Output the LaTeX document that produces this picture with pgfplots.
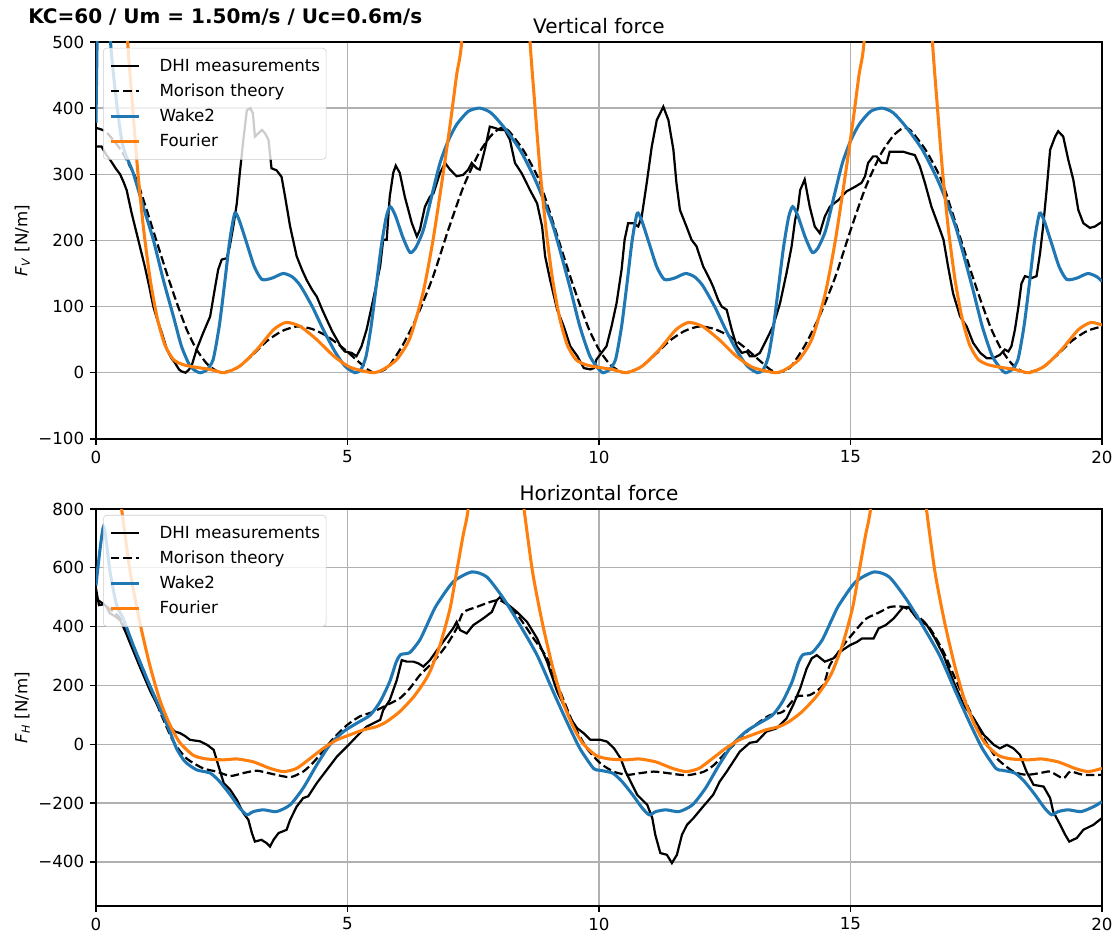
\documentclass[border=0pt]{standalone}
\usepackage{fontspec}
\setmainfont{DejaVu Sans}
\usepackage{pgfplots}
\pgfplotsset{compat=1.18}
\definecolor{tabblue}{HTML}{1F77B4}
\definecolor{taborange}{HTML}{FF7F0E}
\definecolor{gridgray}{HTML}{B0B0B0}
\definecolor{legframe}{HTML}{CCCCCC}

\pgfplotsset{
  myax/.style={
    scale only axis, width=724.3pt, height=285.8pt,
    xmin=0, xmax=20, xtick={0,5,10,15,20},
    xticklabels={0,5,10,15,20},
    grid=major, grid style={gridgray, line width=0.96pt},
    axis line style={line width=0.96pt},
    every tick/.style={black, line width=0.96pt},
    tick align=outside, major tick length=4.2pt,
    xtick pos=lower, ytick pos=left,
    ticklabel style={font=\fontsize{12}{14}\selectfont},
    xticklabel style={yshift=-0.8pt},
    yticklabel style={xshift=-0.8pt},
    title style={at={(0.5,1)}, anchor=base, yshift=0pt, font=\fontsize{14.4}{17}\selectfont},
    legend cell align=left,
    legend style={at={(0.007,0.985)}, anchor=north west, draw=legframe, rounded corners=2.5pt,
      fill=white, fill opacity=0.8, draw opacity=1, text opacity=1,
      font=\fontsize{12}{14}\selectfont, inner xsep=4.3pt, inner ysep=7pt, row sep=6pt,
      nodes={inner sep=0pt, text height=9.5pt, text depth=2.5pt}},
    legend image code/.code={\draw[#1] (0pt,0pt) -- (20pt,0pt); \path (34pt,0pt);},
  },
  dhi/.style={black, line width=1.6pt},
  mor/.style={black, line width=1.6pt, dash pattern=on 6.2pt off 2.7pt, smooth, tension=0.4},
  wk/.style={tabblue, line width=2.2pt, smooth, tension=0.4},
  fo/.style={taborange, line width=2.2pt, smooth, tension=0.4},
}

\begin{document}
\begin{tikzpicture}
\path[use as bounding box] (0,0) rectangle (802.8pt,673.2pt);
\node[anchor=base west, inner sep=0pt, font=\bfseries\fontsize{14.4}{17}\selectfont] at (20.2pt,656.5pt) {KC=60 / Um = 1.50m/s / Uc=0.6m/s};

% ---------------- Vertical force ----------------
\begin{axis}[myax, at={(69.1pt,357.2pt)}, anchor=south west,
  ymin=-100, ymax=500, ytick={-100,0,100,200,300,400,500},
  yticklabels={−100,0,100,200,300,400,500},
  title={Vertical force},
  ylabel={\textit{F}\textsubscript{\textit{V}} [N/m]},
  ylabel style={at={([xshift=-53pt]axis description cs:0,0.5)}, anchor=center, font=\fontsize{12}{14}\selectfont},
]
\addplot[dhi] coordinates {
(0.0,342) (0.11,342) (0.2,330) (0.28,322) (0.4,308) (0.48,300) (0.55,288) (0.61,276) (0.71,241) (0.84,201)
(0.97,161) (1.06,130) (1.14,100) (1.22,80) (1.31,60) (1.41,35) (1.5,22) (1.57,15) (1.65,5) (1.7,2)
(1.78,0) (1.84,4) (1.9,10) (2.0,35) (2.13,60) (2.27,85) (2.37,130) (2.43,156) (2.5,171) (2.6,173)
(2.66,191) (2.73,221) (2.8,256) (2.86,302) (2.93,352) (3.0,397) (3.07,400) (3.12,392) (3.16,357) (3.23,362)
(3.3,367) (3.36,362) (3.43,352) (3.49,309) (3.59,306) (3.65,300) (3.69,296) (3.76,266) (3.86,221) (3.99,176)
(4.1,155) (4.19,140) (4.3,125) (4.39,115) (4.5,95) (4.59,80) (4.7,62) (4.79,50) (4.88,38) (4.95,32)
(5.08,30) (5.18,25) (5.28,40) (5.38,65) (5.51,110) (5.65,161) (5.71,201) (5.78,201) (5.84,266) (5.91,302)
(5.96,313) (6.04,302) (6.14,266) (6.28,226) (6.38,206) (6.44,216) (6.54,251) (6.64,266) (6.71,271) (6.84,302)
(6.94,317) (7.04,307) (7.17,297) (7.3,299) (7.4,307) (7.47,317) (7.57,309) (7.63,307) (7.73,337) (7.83,372)
(7.93,370) (8.03,367) (8.13,367) (8.23,352) (8.33,317) (8.46,302) (8.63,276) (8.77,256) (8.87,221) (8.93,176)
(9.03,140) (9.17,95) (9.3,70) (9.43,40) (9.57,25) (9.7,7) (9.83,5) (9.9,7) (9.95,20) (10.05,30)
(10.15,40) (10.25,70) (10.35,105) (10.45,156) (10.51,201) (10.58,226) (10.68,226) (10.78,221) (10.85,236) (10.95,287)
(11.05,342) (11.15,382) (11.28,402) (11.38,382) (11.48,337) (11.54,287) (11.61,246) (11.74,221) (11.84,201) (11.94,191)
(12.07,161) (12.21,140) (12.27,130) (12.37,110) (12.44,100) (12.54,95) (12.64,65) (12.74,40) (12.84,30) (12.94,32)
(13.0,25) (13.1,25) (13.2,30) (13.33,50) (13.46,70) (13.6,105) (13.73,151) (13.83,191) (13.9,231) (13.96,251)
(14.0,276) (14.09,292) (14.19,251) (14.29,221) (14.39,211) (14.49,236) (14.59,251) (14.76,261) (14.92,274) (15.09,281)
(15.22,287) (15.29,297) (15.35,317) (15.45,327) (15.52,327) (15.62,317) (15.72,317) (15.78,334) (15.92,334) (16.05,334)
(16.18,331) (16.28,329) (16.38,312) (16.48,287) (16.61,251) (16.78,216) (16.85,201) (16.94,161) (17.04,120) (17.18,85)
(17.31,70) (17.44,45) (17.58,30) (17.71,22) (17.84,22) (17.97,27) (18.07,35) (18.14,32) (18.2,40) (18.27,65)
(18.34,100) (18.4,135) (18.47,146) (18.6,143) (18.7,146) (18.77,181) (18.83,221) (18.9,276) (18.97,337) (19.07,357)
(19.13,365) (19.23,357) (19.33,322) (19.43,292) (19.53,246) (19.63,226) (19.76,219) (19.86,221) (19.96,226) (20.0,228)
};
\addlegendentry{DHI measurements}
\addplot[mor] coordinates {
(0,370) (0.2,364) (0.5,336) (0.8,293) (1.0,248) (1.2,200) (1.4,152) (1.6,107) (1.8,66) (2.0,35) (2.2,14) (2.35,5) (2.5,0)
(2.8,7) (3.1,26) (3.4,48) (3.7,63) (4.0,70) (4.3,66) (4.6,55) (4.9,38) (5.2,18) (5.4,5) (5.55,0) (5.8,8) (6.1,42)
(6.4,88) (6.7,145) (7.0,215) (7.3,280) (7.6,330) (7.85,358) (8.05,370)
(8.2,366) (8.5,336) (8.8,293) (9.0,248) (9.2,200) (9.4,152) (9.6,107) (9.8,66) (10.0,35) (10.2,14) (10.35,5) (10.5,0)
(10.8,7) (11.1,26) (11.4,48) (11.7,63) (12.0,70) (12.3,66) (12.6,55) (12.9,38) (13.2,18) (13.4,5) (13.55,0) (13.8,8) (14.1,42)
(14.4,88) (14.7,145) (15.0,215) (15.3,280) (15.6,330) (15.85,358) (16.05,370)
(16.2,366) (16.5,336) (16.8,293) (17.0,248) (17.2,200) (17.4,152) (17.6,107) (17.8,66) (18.0,35) (18.2,14) (18.35,5) (18.5,0)
(18.8,7) (19.1,26) (19.4,48) (19.7,63) (20.0,70)
};
\addlegendentry{Morison theory}
\addplot[wk] coordinates {
(0,378) (0.06,700) (0.12,950) (0.2,720) (0.29,500) (0.51,352) (0.74,302) (0.94,251) (1.14,201) (1.34,140) (1.54,85) (1.7,40) (1.87,10) (2.0,2)
(2.08,0) (2.2,4) (2.33,20) (2.45,70) (2.55,130) (2.66,200) (2.76,241) (2.85,230) (3.0,195) (3.15,160) (3.3,141) (3.5,143) (3.72,150) (3.9,145)
(4.06,132) (4.3,100) (4.52,65) (4.75,32) (4.95,10) (5.15,0) (5.27,5) (5.37,25) (5.47,70) (5.57,130) (5.67,190) (5.77,235) (5.85,251) (5.95,238)
(6.1,205) (6.24,182) (6.35,188) (6.51,216) (6.7,275) (6.84,317) (7.0,350) (7.17,375) (7.4,395) (7.63,400) (7.85,393) (8.1,372) (8.43,337) (8.76,287)
(9.09,221) (9.42,130) (9.62,70) (9.82,25) (10.0,5) (10.08,0)
(10.2,4) (10.33,20) (10.45,70) (10.55,130) (10.66,200) (10.76,241) (10.85,230) (11.0,195) (11.15,160) (11.3,141) (11.5,143) (11.72,150) (11.9,145)
(12.06,132) (12.3,100) (12.52,65) (12.75,32) (12.95,10) (13.15,0) (13.27,5) (13.37,25) (13.47,70) (13.57,130) (13.67,190) (13.77,235) (13.85,251) (13.95,238)
(14.1,205) (14.24,182) (14.35,188) (14.51,216) (14.7,275) (14.84,317) (15.0,350) (15.17,375) (15.4,395) (15.63,400) (15.85,393) (16.1,372) (16.43,337) (16.76,287)
(17.09,221) (17.42,130) (17.62,70) (17.82,25) (18.0,5) (18.08,0)
(18.2,4) (18.33,20) (18.45,70) (18.55,130) (18.66,200) (18.76,241) (18.85,230) (19.0,195) (19.15,160) (19.3,141) (19.5,143) (19.72,150) (19.9,145) (20.0,138)
};
\addlegendentry{Wake2}
\addplot[fo] coordinates {
(0,1550) (0.15,1350) (0.3,1050) (0.45,760) (0.55,620) (0.63,500) (0.73,400) (0.83,305) (0.95,215) (1.08,140) (1.22,82) (1.37,42) (1.54,20) (1.74,12)
(2.0,8) (2.27,5) (2.55,0) (2.86,10) (3.2,35) (3.53,65) (3.78,76) (4.06,70) (4.39,50) (4.73,25) (5.06,8) (5.5,0) (5.71,5) (5.98,20) (6.24,52)
(6.5,120) (6.7,200) (6.9,300) (7.05,380) (7.17,450) (7.27,500) (7.4,680) (7.55,950) (7.75,1350) (7.95,1600) (8.15,1350) (8.3,1050) (8.45,760) (8.55,620)
(8.63,500) (8.73,400) (8.83,305) (8.95,215) (9.08,140) (9.22,82) (9.37,42) (9.54,20) (9.74,12)
(10.0,8) (10.27,5) (10.55,0) (10.86,10) (11.2,35) (11.53,65) (11.78,76) (12.06,70) (12.39,50) (12.73,25) (13.06,8) (13.5,0) (13.71,5) (13.98,20) (14.24,52)
(14.5,120) (14.7,200) (14.9,300) (15.05,380) (15.17,450) (15.27,500) (15.4,680) (15.55,950) (15.75,1350) (15.95,1600) (16.15,1350) (16.3,1050) (16.45,760) (16.55,620)
(16.63,500) (16.73,400) (16.83,305) (16.95,215) (17.08,140) (17.22,82) (17.37,42) (17.54,20) (17.74,12)
(18.0,8) (18.27,5) (18.55,0) (18.86,10) (19.2,35) (19.53,65) (19.78,76) (20.0,72)
};
\addlegendentry{Fourier}
\end{axis}

% ---------------- Horizontal force ----------------
\begin{axis}[myax, at={(69.1pt,20.9pt)}, anchor=south west,
  ymin=-550, ymax=800, ytick={-400,-200,0,200,400,600,800},
  yticklabels={−400,−200,0,200,400,600,800},
  title={Horizontal force},
  ylabel={\textit{F}\textsubscript{\textit{H}} [N/m]},
  ylabel style={at={([xshift=-53pt]axis description cs:0,0.5)}, anchor=center, font=\fontsize{12}{14}\selectfont},
]
\addplot[dhi] coordinates {
(0.0,530) (0.03,500) (0.06,473) (0.16,476) (0.2,470) (0.28,445) (0.38,435) (0.48,422) (0.58,385) (0.68,343)
(0.87,264) (1.07,184) (1.27,116) (1.47,60) (1.57,43) (1.67,38) (1.77,28) (1.87,15) (2.07,10) (2.21,-2)
(2.34,-19) (2.44,-76) (2.54,-132) (2.67,-155) (2.8,-189) (2.93,-234) (3.03,-257) (3.1,-302) (3.16,-331) (3.29,-325)
(3.39,-336) (3.46,-348) (3.53,-325) (3.63,-302) (3.79,-291) (3.86,-257) (3.99,-212) (4.12,-183) (4.22,-177) (4.39,-132)
(4.59,-87) (4.79,-42) (4.99,-8) (5.18,26) (5.38,60) (5.51,71) (5.65,83) (5.71,116) (5.84,150) (5.98,218)
(6.08,286) (6.18,281) (6.31,281) (6.41,275) (6.51,264) (6.64,286) (6.71,303) (6.9,348) (7.1,394) (7.17,416)
(7.24,388) (7.37,377) (7.5,405) (7.7,428) (7.87,450) (7.97,490) (8.03,500) (8.17,478) (8.37,450) (8.57,416)
(8.77,360) (8.97,280) (9.17,179) (9.3,133) (9.43,88) (9.57,54) (9.7,37) (9.83,15) (10.03,15) (10.16,9)
(10.3,-14) (10.43,-48) (10.53,-93) (10.63,-127) (10.76,-172) (10.96,-206) (11.06,-251) (11.12,-308) (11.22,-370) (11.35,-376)
(11.45,-404) (11.55,-376) (11.65,-308) (11.75,-274) (11.88,-251) (12.07,-212) (12.27,-172) (12.4,-127) (12.54,-93) (12.67,-59)
(12.8,-25) (13.0,5) (13.14,9) (13.33,43) (13.53,54) (13.73,88) (13.86,133) (14.0,190) (14.13,258) (14.23,292)
(14.33,303) (14.49,281) (14.66,292) (14.79,314) (14.99,337) (15.13,348) (15.23,360) (15.46,360) (15.56,394) (15.7,405)
(15.86,428) (16.05,467) (16.15,467) (16.32,428) (16.52,405) (16.68,360) (16.85,303) (17.05,213) (17.25,133) (17.45,88)
(17.65,32) (17.85,-2) (17.97,-14) (18.11,-2) (18.24,-14) (18.37,-36) (18.5,-93) (18.64,-138) (18.84,-144) (18.97,-183)
(19.03,-229) (19.17,-274) (19.27,-308) (19.35,-331) (19.5,-319) (19.63,-291) (19.83,-274) (20.0,-251)
};
\addlegendentry{DHI measurements}
\addplot[mor] coordinates {
(0,495) (0.2,470) (0.48,428) (0.74,335) (1.01,225) (1.27,112) (1.54,9) (1.8,-48) (2.13,-82) (2.4,-93) (2.67,-108) (2.93,-98)
(3.2,-90) (3.53,-102) (3.86,-112) (4.12,-93) (4.32,-62) (4.52,-22) (4.72,20) (4.99,65) (5.25,95) (5.51,110) (5.78,133) (6.04,156)
(6.24,190) (6.44,235) (6.71,281) (6.97,337) (7.17,394) (7.3,448) (7.57,467) (7.84,484) (8.03,490)
(8.23,467) (8.43,428) (8.7,360) (8.97,292) (9.23,179) (9.5,66) (9.76,-14) (10.03,-65) (10.29,-93) (10.56,-104) (10.83,-98)
(11.09,-93) (11.36,-98) (11.62,-104) (11.82,-104) (12.09,-93) (12.29,-70) (12.48,-36) (12.68,-2) (12.94,43) (13.2,77)
(13.4,99) (13.66,111) (13.93,162) (14.19,167) (14.46,201) (14.59,269) (14.86,337) (15.19,405) (15.32,428) (15.59,450)
(15.79,467) (16.05,467) (16.32,439) (16.58,394) (16.85,314) (17.11,213) (17.38,111) (17.65,20) (17.91,-48) (18.24,-93)
(18.5,-104) (18.77,-98) (18.97,-93) (19.23,-116) (19.37,-93) (19.63,-104) (20.0,-104)
};
\addlegendentry{Morison theory}
\addplot[wk] coordinates {
(0,540) (0.15,740) (0.28,586) (0.41,473) (0.54,428) (0.74,337) (1.01,224) (1.27,122) (1.47,43) (1.6,-14) (1.77,-59)
(2.0,-87) (2.27,-98) (2.46,-127) (2.67,-172) (2.86,-217) (3.0,-240) (3.13,-229) (3.33,-223) (3.59,-229) (3.86,-206) (4.12,-149)
(4.39,-70) (4.65,-2) (4.92,43) (5.18,71) (5.45,99) (5.65,145) (5.84,213) (5.97,280) (6.06,305) (6.24,312) (6.44,355)
(6.64,428) (6.77,473) (7.1,552) (7.47,586) (7.77,569) (8.1,496) (8.43,405) (8.77,303) (9.09,179) (9.36,77) (9.62,-14) (9.89,-82)
(10.0,-88) (10.27,-98) (10.46,-127) (10.67,-172) (10.86,-217) (11.0,-240) (11.13,-229) (11.33,-223) (11.59,-229) (11.86,-206) (12.12,-149)
(12.39,-70) (12.65,-2) (12.92,43) (13.18,71) (13.45,99) (13.65,145) (13.84,213) (13.97,280) (14.06,305) (14.24,312) (14.44,355)
(14.64,428) (14.77,473) (15.1,552) (15.47,586) (15.77,569) (16.1,496) (16.43,405) (16.77,303) (17.09,179) (17.36,77) (17.62,-14) (17.89,-82)
(18.0,-88) (18.27,-98) (18.46,-127) (18.67,-172) (18.86,-217) (19.0,-240) (19.13,-229) (19.33,-223) (19.59,-229) (19.86,-210) (20.0,-195)
};
\addlegendentry{Wake2}
\addplot[fo] coordinates {
(0,1600) (0.2,1250) (0.4,950) (0.51,800) (0.68,586) (0.87,416) (1.07,269) (1.27,150) (1.47,66) (1.67,5) (1.94,-38) (2.2,-50)
(2.54,-53) (2.8,-50) (3.13,-60) (3.46,-82) (3.73,-93) (3.99,-82) (4.26,-48) (4.52,-14) (4.79,15) (5.05,32) (5.32,49) (5.58,60)
(5.78,77) (6.04,111) (6.31,160) (6.5,205) (6.64,247) (6.84,337) (7.04,462) (7.17,586) (7.3,711) (7.4,800) (7.6,1100) (7.95,1650)
(8.2,1250) (8.4,950) (8.51,800) (8.68,586) (8.87,416) (9.07,269) (9.27,150) (9.47,66) (9.67,5) (9.94,-38) (10.2,-50)
(10.54,-53) (10.8,-50) (11.13,-60) (11.46,-82) (11.73,-93) (11.99,-82) (12.26,-48) (12.52,-14) (12.79,15) (13.05,32) (13.32,49) (13.58,60)
(13.78,77) (14.04,111) (14.31,160) (14.5,205) (14.64,247) (14.84,337) (15.04,462) (15.17,586) (15.3,711) (15.4,800) (15.6,1100) (15.95,1650)
(16.2,1250) (16.4,950) (16.51,800) (16.68,586) (16.87,416) (17.07,269) (17.27,150) (17.47,66) (17.67,5) (17.94,-38) (18.2,-50)
(18.54,-53) (18.8,-50) (19.13,-60) (19.46,-82) (19.73,-93) (20.0,-82)
};
\addlegendentry{Fourier}
\end{axis}
\end{tikzpicture}
\end{document}
